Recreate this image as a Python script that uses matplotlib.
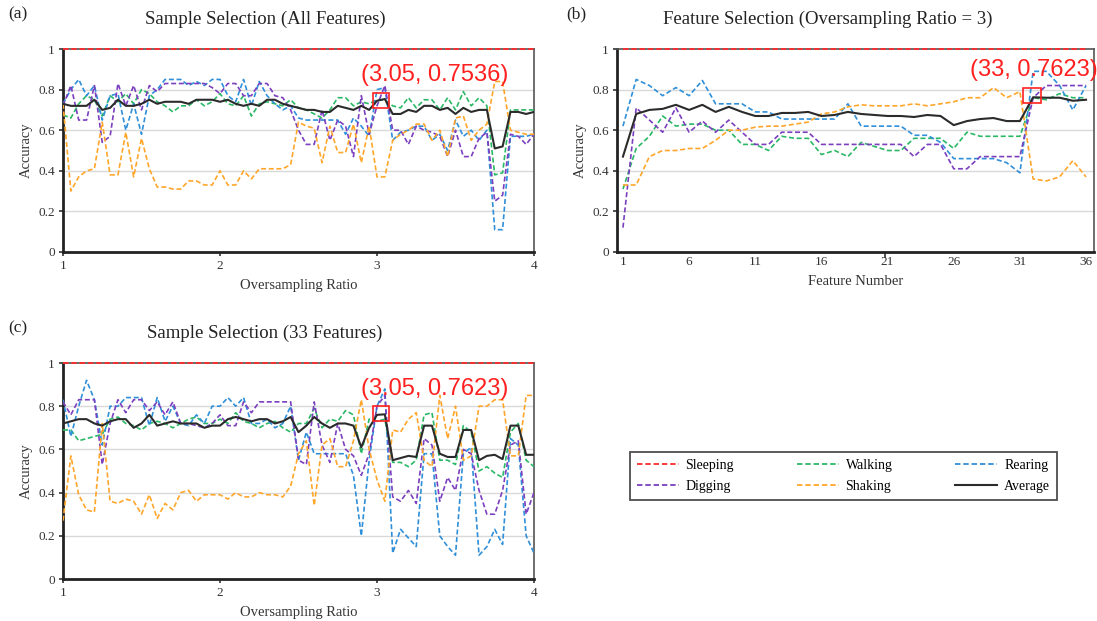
import matplotlib
matplotlib.use("Agg")
import matplotlib.pyplot as plt
import matplotlib.patches as mpatches
from matplotlib.lines import Line2D
import numpy as np

# ---------------------------------------------------------------------------
# Data
# ---------------------------------------------------------------------------
ratios = np.linspace(1, 4, 61)          # oversampling ratio 1.00 .. 4.00, step 0.05
features = list(range(1, 37))

# (a) Sample selection, all features
a_sleeping = [1.0] * 61
a_walking = [0.675, 0.66, 0.73, 0.77, 0.75, 0.67, 0.77, 0.74, 0.78, 0.73,
             0.80, 0.78, 0.74, 0.72, 0.69, 0.72, 0.72, 0.75, 0.72, 0.74,
             0.78, 0.73, 0.72, 0.77, 0.67, 0.73, 0.74, 0.73, 0.72, 0.75,
             0.71, 0.70, 0.68, 0.66, 0.70, 0.76, 0.76, 0.72, 0.74, 0.73,
             0.75, 0.75, 0.72, 0.71, 0.76, 0.71, 0.75, 0.75, 0.70, 0.76,
             0.70, 0.79, 0.72, 0.76, 0.72, 0.38, 0.39, 0.70, 0.70, 0.70, 0.70]
a_rearing = [0.73, 0.80, 0.85, 0.77, 0.82, 0.65, 0.77, 0.78, 0.60, 0.73,
             0.58, 0.77, 0.80, 0.85, 0.85, 0.85, 0.82, 0.84, 0.82, 0.85,
             0.85, 0.77, 0.74, 0.85, 0.72, 0.84, 0.77, 0.73, 0.70, 0.72,
             0.66, 0.65, 0.65, 0.65, 0.65, 0.65, 0.58, 0.66, 0.62, 0.57,
             0.80, 0.81, 0.55, 0.59, 0.60, 0.62, 0.62, 0.55, 0.58, 0.50,
             0.65, 0.57, 0.60, 0.55, 0.60, 0.11, 0.11, 0.57, 0.57, 0.57, 0.58]
a_digging = [0.72, 0.82, 0.65, 0.65, 0.82, 0.54, 0.57, 0.83, 0.72, 0.82,
             0.70, 0.82, 0.79, 0.83, 0.83, 0.83, 0.83, 0.83, 0.83, 0.81,
             0.78, 0.83, 0.83, 0.77, 0.77, 0.83, 0.83, 0.77, 0.76, 0.70,
             0.60, 0.53, 0.53, 0.70, 0.55, 0.65, 0.62, 0.47, 0.77, 0.58,
             0.72, 0.82, 0.60, 0.60, 0.53, 0.62, 0.60, 0.59, 0.57, 0.47,
             0.60, 0.47, 0.47, 0.56, 0.59, 0.25, 0.28, 0.58, 0.57, 0.53, 0.58]
a_shaking = [0.73, 0.30, 0.37, 0.40, 0.41, 0.64, 0.38, 0.38, 0.59, 0.37,
             0.56, 0.41, 0.32, 0.32, 0.31, 0.31, 0.35, 0.35, 0.33, 0.33,
             0.40, 0.33, 0.33, 0.40, 0.36, 0.41, 0.41, 0.41, 0.41, 0.43,
             0.64, 0.62, 0.61, 0.44, 0.62, 0.49, 0.49, 0.63, 0.44, 0.62,
             0.37, 0.37, 0.55, 0.58, 0.60, 0.63, 0.63, 0.55, 0.60, 0.47,
             0.66, 0.67, 0.55, 0.60, 0.63, 0.84, 0.84, 0.60, 0.59, 0.58, 0.58]
a_average = [0.73, 0.72, 0.72, 0.72, 0.75, 0.70, 0.71, 0.75, 0.72, 0.72,
             0.73, 0.75, 0.73, 0.74, 0.74, 0.74, 0.73, 0.75, 0.75, 0.75,
             0.74, 0.75, 0.73, 0.72, 0.73, 0.72, 0.75, 0.75, 0.73, 0.72,
             0.71, 0.70, 0.70, 0.69, 0.69, 0.72, 0.71, 0.70, 0.72, 0.70,
             0.745, 0.7536, 0.68, 0.68, 0.70, 0.69, 0.72, 0.72, 0.70, 0.71,
             0.68, 0.71, 0.69, 0.70, 0.70, 0.51, 0.52, 0.69, 0.69, 0.68, 0.69]

# (b) Feature selection, oversampling ratio = 3
b_sleeping = [1.0] * 36
b_walking = [0.31, 0.51, 0.57, 0.67, 0.62, 0.63, 0.63, 0.60, 0.60, 0.53,
             0.53, 0.50, 0.57, 0.56, 0.56, 0.48, 0.50, 0.47, 0.54, 0.52,
             0.50, 0.50, 0.56, 0.56, 0.56, 0.51, 0.59, 0.57, 0.57, 0.57,
             0.57, 0.76, 0.75, 0.78, 0.76, 0.76]
b_rearing = [0.62, 0.85, 0.82, 0.77, 0.81, 0.77, 0.845, 0.73, 0.73, 0.73,
             0.69, 0.69, 0.655, 0.655, 0.655, 0.655, 0.655, 0.73, 0.62, 0.62,
             0.62, 0.62, 0.575, 0.575, 0.54, 0.46, 0.46, 0.46, 0.46, 0.44,
             0.39, 0.89, 0.89, 0.82, 0.70, 0.82]
b_digging = [0.12, 0.71, 0.65, 0.59, 0.71, 0.59, 0.645, 0.59, 0.65, 0.59,
             0.53, 0.53, 0.59, 0.59, 0.59, 0.53, 0.53, 0.53, 0.53, 0.53,
             0.53, 0.53, 0.47, 0.53, 0.53, 0.41, 0.41, 0.47, 0.47, 0.47,
             0.47, 0.76, 0.82, 0.82, 0.82, 0.82]
b_shaking = [0.33, 0.33, 0.47, 0.50, 0.50, 0.51, 0.51, 0.55, 0.60, 0.60,
             0.615, 0.62, 0.62, 0.63, 0.64, 0.68, 0.69, 0.715, 0.725, 0.72,
             0.72, 0.72, 0.73, 0.72, 0.73, 0.74, 0.76, 0.76, 0.81, 0.76,
             0.79, 0.36, 0.35, 0.37, 0.45, 0.37]
b_average = [0.47, 0.68, 0.70, 0.705, 0.725, 0.70, 0.725, 0.69, 0.715, 0.69,
             0.67, 0.67, 0.685, 0.685, 0.69, 0.67, 0.675, 0.69, 0.68, 0.675,
             0.67, 0.67, 0.665, 0.675, 0.67, 0.625, 0.645, 0.655, 0.66, 0.645,
             0.645, 0.7623, 0.76, 0.76, 0.745, 0.75]

# (c) Sample selection, 33 features
c_sleeping = [1.0] * 61
c_walking = [0.69, 0.69, 0.64, 0.65, 0.66, 0.67, 0.74, 0.75, 0.72, 0.71,
             0.69, 0.72, 0.73, 0.72, 0.70, 0.72, 0.74, 0.75, 0.72, 0.72,
             0.74, 0.72, 0.77, 0.73, 0.72, 0.70, 0.72, 0.73, 0.70, 0.68,
             0.72, 0.72, 0.79, 0.70, 0.74, 0.73, 0.78, 0.76, 0.58, 0.74,
             0.73, 0.74, 0.54, 0.54, 0.52, 0.55, 0.76, 0.77, 0.55, 0.55,
             0.53, 0.71, 0.68, 0.50, 0.52, 0.49, 0.47, 0.68, 0.72, 0.55, 0.52]
c_rearing = [0.83, 0.66, 0.80, 0.92, 0.83, 0.62, 0.80, 0.80, 0.84, 0.84,
             0.84, 0.71, 0.84, 0.73, 0.80, 0.72, 0.71, 0.76, 0.72, 0.80,
             0.80, 0.84, 0.80, 0.84, 0.72, 0.72, 0.74, 0.70, 0.72, 0.80,
             0.55, 0.68, 0.58, 0.58, 0.58, 0.58, 0.58, 0.48, 0.20, 0.55,
             0.80, 0.88, 0.12, 0.23, 0.19, 0.15, 0.58, 0.58, 0.20, 0.15,
             0.11, 0.58, 0.61, 0.11, 0.15, 0.23, 0.16, 0.65, 0.62, 0.20, 0.12]
c_digging = [0.82, 0.76, 0.83, 0.83, 0.83, 0.53, 0.72, 0.83, 0.77, 0.83,
             0.83, 0.78, 0.82, 0.76, 0.82, 0.72, 0.72, 0.71, 0.70, 0.72,
             0.76, 0.71, 0.71, 0.82, 0.77, 0.82, 0.82, 0.82, 0.82, 0.82,
             0.55, 0.53, 0.82, 0.62, 0.54, 0.72, 0.60, 0.57, 0.48, 0.58,
             0.80, 0.85, 0.38, 0.36, 0.41, 0.35, 0.65, 0.62, 0.36, 0.47,
             0.41, 0.60, 0.58, 0.41, 0.30, 0.30, 0.41, 0.62, 0.64, 0.30, 0.40]
c_shaking = [0.27, 0.57, 0.39, 0.32, 0.31, 0.72, 0.36, 0.35, 0.37, 0.36,
             0.30, 0.39, 0.28, 0.35, 0.32, 0.40, 0.41, 0.36, 0.39, 0.39,
             0.39, 0.37, 0.40, 0.38, 0.38, 0.40, 0.39, 0.39, 0.38, 0.43,
             0.58, 0.64, 0.34, 0.62, 0.65, 0.52, 0.52, 0.64, 0.83, 0.60,
             0.46, 0.36, 0.69, 0.68, 0.74, 0.77, 0.55, 0.52, 0.85, 0.65,
             0.80, 0.55, 0.57, 0.80, 0.80, 0.83, 0.83, 0.57, 0.57, 0.85, 0.85]
c_average = [0.72, 0.73, 0.74, 0.74, 0.72, 0.71, 0.73, 0.74, 0.74, 0.70,
             0.72, 0.76, 0.71, 0.72, 0.73, 0.72, 0.72, 0.72, 0.70, 0.71,
             0.71, 0.74, 0.75, 0.74, 0.73, 0.74, 0.74, 0.72, 0.73, 0.75,
             0.68, 0.71, 0.75, 0.72, 0.70, 0.72, 0.72, 0.71, 0.61, 0.70,
             0.76, 0.7623, 0.55, 0.56, 0.57, 0.565, 0.71, 0.71, 0.58, 0.565,
             0.565, 0.69, 0.69, 0.55, 0.57, 0.575, 0.555, 0.71, 0.71, 0.575, 0.575]

# ---------------------------------------------------------------------------
# Style
# ---------------------------------------------------------------------------
COLORS = {
    "Sleeping": "#ff2b2b",
    "Walking":  "#2bb866",
    "Rearing":  "#2f8fd8",
    "Digging":  "#7b3fbf",
    "Shaking":  "#ffa62b",
    "Average":  "#2b2b2b",
}
SERIF = "Liberation Serif"
SANS = "Liberation Sans"
DASH = (0, (3, 1.6))
W, H = 1097, 621


def rect(left, top, right, bottom):
    return [left / W, 1 - bottom / H, (right - left) / W, (bottom - top) / H]


def draw_panel(ax, x, series, xticks, xlim):
    for name, vals in series:
        if name == "Average":
            ax.plot(x, vals, color=COLORS[name], lw=1.5, zorder=5)
        elif name == "Sleeping":
            ax.plot(x, vals, color=COLORS[name], lw=1.3, ls=DASH, zorder=6, clip_on=False)
        else:
            ax.plot(x, vals, color=COLORS[name], lw=1.2, ls=DASH, zorder=4)

    ax.set_xlim(*xlim)
    ax.set_ylim(0, 1)
    ax.set_yticks([0, 0.2, 0.4, 0.6, 0.8, 1])
    ax.set_yticklabels(["0", "0.2", "0.4", "0.6", "0.8", "1"], family=SERIF, fontsize=9.5,
                       color="#333333")
    ax.set_xticks(xticks)
    ax.set_xticklabels([str(t) for t in xticks], family=SERIF, fontsize=9.5, color="#333333")
    ax.tick_params(axis="both", direction="out", length=3, width=1.2, color="#333333", pad=3)
    ax.set_ylabel("Accuracy", family=SERIF, fontsize=10.5, color="#333333", labelpad=4)

    for y in [0.2, 0.4, 0.6, 0.8]:
        ax.axhline(y, color="#d9d9d9", lw=1.0, zorder=1)
    for side in ["left", "bottom"]:
        ax.spines[side].set_linewidth(2.0)
        ax.spines[side].set_color("#222222")
    for side in ["top", "right"]:
        ax.spines[side].set_linewidth(1.2)
        ax.spines[side].set_color("#555555")


def annotate(ax, x0, y0, x1, y1, tx, ty, label):
    ax.add_patch(mpatches.Rectangle((x0, y0), x1 - x0, y1 - y0, fill=False,
                                    edgecolor="#ff2020", lw=1.2, zorder=7))
    ax.text(tx, ty, label, color="#ff2020", family=SANS, fontsize=17,
            ha="left", va="bottom", zorder=8, clip_on=False)


fig = plt.figure(figsize=(W / 100, H / 100), dpi=100)

# ---------------------------------------------------------------------------
# (a)
# ---------------------------------------------------------------------------
ax_a = fig.add_axes(rect(63, 49, 534, 252))
draw_panel(ax_a, ratios,
           [("Sleeping", a_sleeping), ("Walking", a_walking), ("Rearing", a_rearing),
            ("Digging", a_digging), ("Shaking", a_shaking), ("Average", a_average)],
           [1, 2, 3, 4], (1, 4))
ax_a.set_xlabel("Oversampling Ratio", family=SERIF, fontsize=10.5, color="#333333", labelpad=5)
annotate(ax_a, 2.975, 0.71, 3.075, 0.785, 2.9, 0.82, "(3.05, 0.7536)")

# ---------------------------------------------------------------------------
# (b)
# ---------------------------------------------------------------------------
ax_b = fig.add_axes(rect(617, 49, 1094, 252))
draw_panel(ax_b, features,
           [("Sleeping", b_sleeping), ("Walking", b_walking), ("Rearing", b_rearing),
            ("Digging", b_digging), ("Shaking", b_shaking), ("Average", b_average)],
           [1, 6, 11, 16, 21, 26, 31, 36], (0.55, 36.6))
ax_b.tick_params(axis="x", length=0)
ax_b.set_xticks([20.8], minor=True)
ax_b.tick_params(axis="x", which="minor", length=4, width=1.2, color="#333333")
ax_b.set_xlabel("Feature Number", family=SERIF, fontsize=10.5, color="#333333", labelpad=5)
annotate(ax_b, 31.2, 0.735, 32.6, 0.81, 27.2, 0.84, "(33, 0.7623)")

# ---------------------------------------------------------------------------
# (c)
# ---------------------------------------------------------------------------
ax_c = fig.add_axes(rect(63, 363, 534, 579))
draw_panel(ax_c, ratios,
           [("Sleeping", c_sleeping), ("Walking", c_walking), ("Rearing", c_rearing),
            ("Digging", c_digging), ("Shaking", c_shaking), ("Average", c_average)],
           [1, 2, 3, 4], (1, 4))
ax_c.set_xlabel("Oversampling Ratio", family=SERIF, fontsize=10.5, color="#333333", labelpad=5)
annotate(ax_c, 2.975, 0.73, 3.075, 0.80, 2.9, 0.83, "(3.05, 0.7623)")

# ---------------------------------------------------------------------------
# Titles and panel letters
# ---------------------------------------------------------------------------
title_kw = dict(family=SERIF, fontsize=13.5, color="#222222", ha="center", va="center")
fig.text(265 / W, 1 - 19 / H, "Sample Selection (All Features)", **title_kw)
fig.text(828 / W, 1 - 19 / H, "Feature Selection (Oversampling Ratio = 3)", **title_kw)
fig.text(265 / W, 1 - 333 / H, "Sample Selection (33 Features)", **title_kw)

letter_kw = dict(family=SERIF, fontsize=12.5, color="#222222", ha="left", va="center")
fig.text(8 / W, 1 - 14 / H, "(a)", **letter_kw)
fig.text(566 / W, 1 - 14 / H, "(b)", **letter_kw)
fig.text(8 / W, 1 - 328 / H, "(c)", **letter_kw)

# ---------------------------------------------------------------------------
# Legend (filled column-wise, so order gives the two rows)
# ---------------------------------------------------------------------------
order = ["Sleeping", "Digging", "Walking", "Shaking", "Rearing", "Average"]
handles = []
for name in order:
    if name == "Average":
        handles.append(Line2D([], [], color=COLORS[name], lw=1.5, label=name))
    else:
        handles.append(Line2D([], [], color=COLORS[name], lw=1.3, ls=DASH, label=name))
leg = fig.legend(handles=handles, ncol=3, mode="expand", loc="lower left",
                 bbox_to_anchor=(630 / W, 1 - 500 / H, 427 / W, 47 / H),
                 prop={"family": SERIF, "size": 10}, frameon=True, fancybox=False,
                 handlelength=3.0, handletextpad=0.5, borderpad=0.5, labelspacing=0.6,
                 borderaxespad=0)
leg.get_frame().set_edgecolor("#222222")
leg.get_frame().set_linewidth(1.3)

fig.savefig("out.png", dpi=100)
